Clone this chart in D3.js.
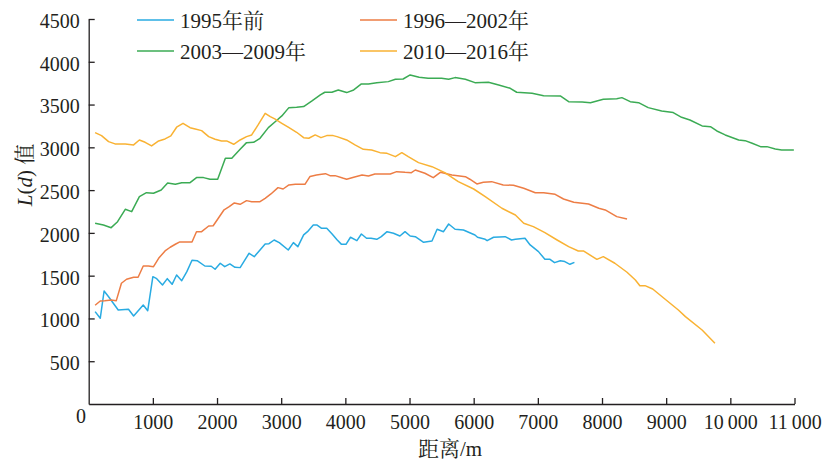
<!DOCTYPE html>
<html>
<head>
<meta charset="utf-8">
<script src="https://cdn.jsdelivr.net/npm/d3@7"></script>
<style>
  body { margin: 0; background: #fff; }
  svg text { font-family: "Liberation Serif", serif; fill: #231f20; }
  .cjk { font-family: "Noto Serif CJK SC", "Noto Sans CJK SC", serif; }
  .axis path, .axis line { stroke: #231f20; stroke-width: 1.3; }
  .axis text { font-size: 20px; font-family: "Liberation Serif", serif; }
</style>
</head>
<body>
<div id="chart"></div>
<script>
// series names (legend order)
var seriesNames = ["1995年前", "1996—2002年", "2003—2009年", "2010—2016年"];
var seriesColors = ["#29abe2", "#ed7d45", "#3bab54", "#f9b233"];

// [distance m, L(d)]
var before1995 = [[100,1080],[180,1002],[240,1321],[310,1254],[460,1099],[620,1107],[700,1029],[850,1157],[920,1091],[1000,1488],[1060,1465],[1150,1391],[1225,1465],[1300,1399],[1370,1508],[1450,1441],[1530,1547],[1610,1680],[1690,1675],[1810,1613],[1910,1610],[1970,1575],[2050,1645],[2120,1605],[2200,1637],[2280,1598],[2360,1594],[2440,1691],[2500,1762],[2580,1722],[2670,1800],[2750,1870],[2810,1874],[2890,1917],[2970,1886],[3110,1800],[3190,1886],[3260,1839],[3350,1976],[3410,2014],[3500,2092],[3560,2092],[3630,2054],[3710,2054],[3790,1990],[3870,1920],[3940,1866],[4010,1866],[4080,1949],[4180,1909],[4250,1987],[4330,1937],[4400,1937],[4490,1925],[4560,1956],[4650,2014],[4750,1996],[4850,1964],[4930,2014],[5010,1964],[5090,1956],[5220,1890],[5350,1905],[5430,2042],[5530,2014],[5610,2104],[5710,2042],[5840,2034],[6020,1976],[6060,1949],[6180,1925],[6210,1909],[6310,1949],[6490,1956],[6590,1917],[6650,1925],[6800,1937],[6880,1859],[7010,1781],[7110,1691],[7190,1691],[7260,1652],[7350,1675],[7420,1665],[7500,1633],[7570,1656]];

var y1996to2002 = [[100,1154],[180,1204],[250,1208],[350,1216],[430,1208],[510,1411],[590,1458],[700,1481],[770,1481],[850,1613],[930,1613],[1010,1605],[1090,1703],[1190,1789],[1270,1832],[1350,1867],[1420,1894],[1530,1894],[1610,1894],[1680,2014],[1760,2014],[1870,2081],[1940,2084],[2020,2171],[2110,2270],[2190,2306],[2270,2350],[2360,2334],[2460,2377],[2540,2365],[2670,2365],[2750,2404],[2840,2455],[2950,2529],[3030,2513],[3120,2560],[3220,2568],[3370,2568],[3450,2660],[3550,2677],[3630,2685],[3690,2692],[3760,2669],[3840,2669],[3970,2638],[4020,2627],[4130,2650],[4260,2677],[4360,2665],[4460,2689],[4590,2689],[4700,2689],[4800,2716],[4930,2708],[5030,2704],[5090,2735],[5240,2697],[5370,2646],[5480,2708],[5660,2677],[5870,2657],[5940,2627],[6050,2572],[6150,2592],[6280,2599],[6460,2560],[6620,2557],[6780,2521],[6960,2470],[7090,2470],[7270,2451],[7400,2396],[7560,2358],[7790,2338],[7950,2288],[8050,2268],[8230,2190],[8390,2163]];

var y2003to2009 = [[100,2112],[230,2092],[350,2061],[450,2131],[570,2276],[670,2248],[790,2424],[900,2470],[1010,2463],[1130,2502],[1230,2583],[1350,2568],[1450,2587],[1580,2587],[1680,2646],[1790,2646],[1890,2627],[2010,2627],[2130,2872],[2230,2872],[2360,2977],[2460,3055],[2570,3059],[2670,3106],[2800,3230],[2920,3308],[3010,3367],[3120,3464],[3240,3468],[3350,3476],[3480,3542],[3610,3612],[3680,3644],[3790,3644],[3890,3671],[4020,3640],[4130,3671],[4250,3741],[4360,3741],[4490,3756],[4670,3768],[4780,3796],[4900,3799],[5010,3846],[5150,3819],[5290,3807],[5500,3807],[5610,3796],[5710,3815],[5870,3796],[6020,3756],[6230,3760],[6390,3729],[6570,3690],[6670,3644],[6910,3632],[7090,3604],[7350,3601],[7480,3534],[7690,3530],[7820,3522],[8020,3562],[8230,3569],[8310,3581],[8440,3534],[8570,3522],[8720,3464],[8930,3425],[9110,3406],[9240,3351],[9370,3320],[9560,3250],[9690,3242],[9790,3191],[9920,3145],[10130,3086],[10230,3078],[10340,3047],[10470,3008],[10570,3008],[10700,2981],[10800,2969],[10990,2969]];

var y2010to2016 = [[100,3172],[200,3137],[310,3067],[410,3040],[570,3040],[700,3028],[790,3086],[880,3059],[980,3016],[1090,3075],[1190,3098],[1280,3133],[1370,3235],[1470,3281],[1580,3230],[1660,3215],[1760,3195],[1870,3125],[1970,3094],[2070,3075],[2150,3075],[2260,3036],[2360,3086],[2460,3125],[2540,3145],[2640,3262],[2750,3398],[2830,3359],[2900,3332],[3010,3281],[3110,3235],[3240,3176],[3350,3113],[3430,3106],[3530,3145],[3620,3113],[3710,3137],[3810,3137],[3870,3125],[4020,3086],[4150,3028],[4280,2977],[4410,2969],[4540,2938],[4650,2930],[4780,2891],[4880,2938],[4980,2891],[5140,2821],[5350,2774],[5550,2704],[5760,2599],[6000,2513],[6180,2424],[6440,2288],[6650,2209],[6780,2112],[6930,2073],[7110,2003],[7300,1917],[7480,1839],[7630,1789],[7710,1789],[7920,1691],[8020,1722],[8200,1645],[8390,1540],[8520,1450],[8590,1383],[8670,1383],[8790,1344],[8980,1227],[9190,1099],[9300,1021],[9560,865],[9760,710]];

var xTicks = [1000, 2000, 3000, 4000, 5000, 6000, 7000, 8000, 9000, 10000, 11000];
var yTicks = [500, 1000, 1500, 2000, 2500, 3000, 3500, 4000, 4500];

var allSeries = [before1995, y1996to2002, y2003to2009, y2010to2016];

drawChart();

function fmtX(d) {
  // thin space as thousands separator for 5-digit numbers
  return d >= 10000 ? d3.format(",")(d).replace(",", "\u2009") : String(d);
}

// put CJK characters in their own tspans so the digits stay serif
function addMixedText(sel, str) {
  var parts = str.match(/[\u3400-\u9fff]+|[^\u3400-\u9fff]+/g);
  parts.forEach(function(p){
    var t = sel.append("tspan").text(p);
    if (/[\u3400-\u9fff]/.test(p)) t.attr("class", "cjk");
  });
}

function drawChart() {
  var W = 835, H = 463;
  var x = d3.scaleLinear().domain([0, 11000]).range([88.7, 794.5]);
  var y = d3.scaleLinear().domain([0, 4500]).range([404, 19]);

  var svg = d3.select("#chart").append("svg")
    .attr("width", W).attr("height", H);

  // series lines
  var line = d3.line().x(function(d){ return x(d[0]); }).y(function(d){ return y(d[1]); });
  svg.append("g").selectAll("path")
    .data(allSeries)
    .enter().append("path")
    .attr("d", line)
    .attr("fill", "none")
    .attr("stroke", function(d, i){ return seriesColors[i]; })
    .attr("stroke-width", 1.5)
    .attr("stroke-linejoin", "round");

  // axes, ticks pointing inward
  svg.append("g")
    .attr("class", "axis")
    .attr("transform", "translate(0,404)")
    .call(d3.axisBottom(x).tickValues(xTicks).tickFormat(fmtX).tickSize(-6).tickSizeOuter(0).tickPadding(11));

  var yAxisG = svg.append("g")
    .attr("class", "axis")
    .attr("transform", "translate(88.7,0)")
    .call(d3.axisLeft(y).tickValues(yTicks).tickFormat(d3.format("d")).tickSize(-6).tickSizeOuter(0).tickPadding(9));
  yAxisG.selectAll(".tick text").attr("dy", "0.42em");
  svg.selectAll(".axis").selectAll(".domain").attr("fill", "none");
  svg.selectAll(".axis").selectAll(".tick text").attr("fill", "#231f20");

  // shared origin label
  svg.append("text")
    .attr("x", 86).attr("y", 423)
    .attr("text-anchor", "end")
    .attr("font-size", 20)
    .text("0");

  // axis titles
  var xt = svg.append("text")
    .attr("x", 450).attr("y", 456)
    .attr("text-anchor", "middle")
    .attr("font-size", 21);
  addMixedText(xt, "距离/m");

  var yt = svg.append("text")
    .attr("transform", "translate(32,175) rotate(-90)")
    .attr("text-anchor", "middle")
    .attr("font-size", 21);
  yt.append("tspan").attr("font-style", "italic").text("L");
  yt.append("tspan").text("(");
  yt.append("tspan").attr("font-style", "italic").text("d");
  yt.append("tspan").text(") ");
  yt.append("tspan").attr("class", "cjk").text("值");

  // legend, 2 x 2
  var legendPos = [[137, 20], [360, 20], [137, 51], [360, 51]];
  var lg = svg.append("g").selectAll("g")
    .data(seriesNames)
    .enter().append("g")
    .attr("transform", function(d, i){ return "translate(" + legendPos[i][0] + "," + legendPos[i][1] + ")"; });
  lg.append("line")
    .attr("x1", 0).attr("x2", 37).attr("y1", 0).attr("y2", 0)
    .attr("stroke", function(d, i){ return seriesColors[i]; })
    .attr("stroke-width", 1.5);
  lg.append("text")
    .attr("x", 43).attr("y", 8)
    .attr("font-size", 21)
    .each(function(d){ addMixedText(d3.select(this), d); });
}
</script>
</body>
</html>
